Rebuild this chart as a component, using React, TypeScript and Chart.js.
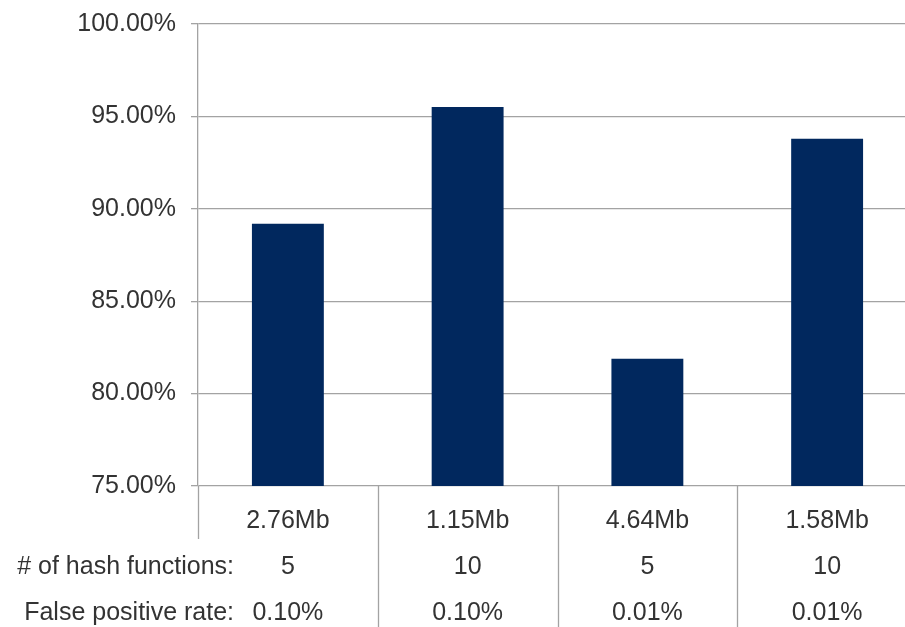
import React, { useEffect, useRef } from "react";
import { Chart, registerables } from "chart.js";

Chart.register(...registerables);

const categories: string[] = ["2.76Mb", "1.15Mb", "4.64Mb", "1.58Mb"];
const hashFunctions: string[] = ["5", "10", "5", "10"];
const falsePositiveRates: string[] = ["0.10%", "0.10%", "0.01%", "0.01%"];
const accuracy: number[] = [89.19, 95.51, 81.89, 93.79];
const rowHeaders: string[] = ["# of hash functions:", "False positive rate:"];
const yMin = 75;
const yMax = 100;
const yStep = 5;

const FONT = "'Liberation Sans', Arial, Helvetica, sans-serif";
const TEXT = "#333333";
const GRID = "#a3a3a3";
const LINE_H = 46;
const X_PAD = 12;

const tablePlugin = {
  id: "tablePlugin",
  afterDraw(chart: any) {
    const { ctx } = chart;
    const x = chart.scales.x;
    const area = chart.chartArea;
    const n = categories.length;
    const bottom = chart.height;
    const step = x.getPixelForValue(1) - x.getPixelForValue(0);
    ctx.save();
    ctx.strokeStyle = GRID;
    ctx.lineWidth = 1.3;
    for (let i = 0; i <= n; i++) {
      const px = x.getPixelForValue(0) - step / 2 + step * i;
      const yEnd = i === 0 ? area.bottom + 53 : bottom;
      ctx.beginPath();
      ctx.moveTo(Math.round(px) + 0.5, area.bottom);
      ctx.lineTo(Math.round(px) + 0.5, yEnd);
      ctx.stroke();
    }
    ctx.fillStyle = TEXT;
    ctx.font = `25px ${FONT}`;
    ctx.textAlign = "right";
    ctx.textBaseline = "middle";
    rowHeaders.forEach((h, r) => {
      const y = area.bottom + X_PAD + LINE_H * (r + 1) + LINE_H / 2;
      ctx.fillText(h, area.left + 36, y);
    });
    ctx.restore();
  },
};

export default function App() {
  const ref = useRef<HTMLCanvasElement | null>(null);

  useEffect(() => {
    if (!ref.current) return;
    const labels = categories.map((c, i) => [c, hashFunctions[i], falsePositiveRates[i]]);
    const chart = new Chart(ref.current, {
      type: "bar",
      data: {
        labels,
        datasets: [
          {
            data: accuracy,
            backgroundColor: "#01285e",
            borderWidth: 0,
            barPercentage: 0.4,
            categoryPercentage: 1,
          },
        ],
      },
      options: {
        responsive: false,
        animation: false,
        maintainAspectRatio: false,
        layout: { padding: { top: 24, left: 0, right: 0, bottom: 0 } },
        plugins: {
          legend: { display: false },
          tooltip: { enabled: false },
        },
        scales: {
          x: {
            grid: { display: false, drawTicks: false, tickLength: 0 },
            border: { display: false },
            ticks: {
              color: TEXT,
              padding: X_PAD,
              maxRotation: 0,
              autoSkip: false,
              font: { family: FONT, size: 25, lineHeight: LINE_H / 25 },
            },
            afterFit: (s: any) => {
              s.height = 627 - 486;
              s.paddingLeft = 0;
              s.paddingRight = 0;
            },
          },
          y: {
            min: yMin,
            max: yMax,
            grid: {
              color: GRID,
              lineWidth: 1.3,
              drawTicks: true,
              tickLength: 7,
              tickColor: GRID,
            },
            border: { display: true, color: GRID, width: 1.3 },
            ticks: {
              stepSize: yStep,
              color: TEXT,
              padding: 15,
              font: { family: FONT, size: 25 },
              callback: (v: any) => Number(v).toFixed(2) + "%",
            },
            afterFit: (s: any) => {
              s.width = 198;
              s.paddingTop = 0;
              s.paddingBottom = 0;
            },
          },
        },
      },
      plugins: [tablePlugin],
    });
    return () => chart.destroy();
  }, []);

  return (
    <div
      style={{
        position: "fixed",
        left: 0,
        top: 0,
        width: 905,
        height: 627,
        overflow: "hidden",
        background: "#fff",
      }}
    >
      <canvas ref={ref} width={917} height={627} style={{ display: "block" }} />
    </div>
  );
}
